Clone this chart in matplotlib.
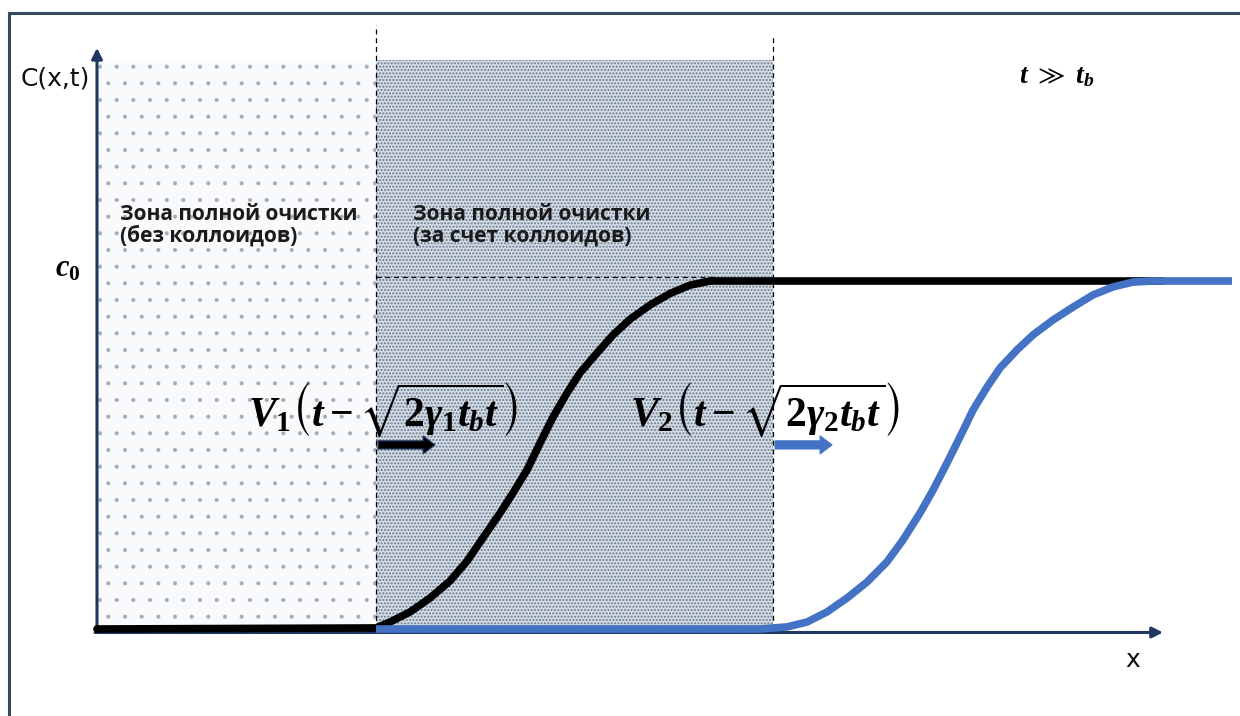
import numpy as np
import matplotlib as mpl
import matplotlib.pyplot as plt
from matplotlib.lines import Line2D

plt.rcParams['mathtext.fontset'] = 'custom'
plt.rcParams['mathtext.it'] = 'Liberation Serif:bold:italic'
plt.rcParams['mathtext.rm'] = 'Liberation Serif:bold'
plt.rcParams['mathtext.bf'] = 'Liberation Serif:bold'
plt.rcParams['mathtext.fallback'] = 'stix'

# границы зон (x в условных единицах), уровень c0 = 1
zone_edges = [0.0, 2.79, 6.76]
zone_top = 1.635
c0 = 1.0

# профиль без коллоидов (черный)
black_x = [0.0, 2.79, 2.93, 3.13, 3.33, 3.53, 3.70, 3.86, 4.03, 4.16, 4.30, 4.43,
           4.56, 4.70, 4.83, 5.00, 5.16, 5.33, 5.53, 5.73, 5.93, 6.13, 10.66]
black_c = [0.0, 0.003, 0.020, 0.049, 0.089, 0.138, 0.195, 0.262, 0.333, 0.391, 0.457, 0.534,
           0.609, 0.678, 0.736, 0.793, 0.845, 0.890, 0.931, 0.964, 0.988, 1.0, 1.0]

# профиль с коллоидами (синий)
blue_x = [2.79, 6.63, 6.90, 7.10, 7.30, 7.50, 7.70, 7.90, 8.06, 8.23, 8.36, 8.50,
          8.63, 8.76, 8.90, 9.03, 9.20, 9.36, 9.56, 9.76, 9.96, 10.16, 10.36, 10.56, 11.35]
blue_c = [0.0, 0.0, 0.006, 0.020, 0.049, 0.089, 0.135, 0.193, 0.256, 0.333, 0.399, 0.477,
          0.552, 0.629, 0.695, 0.750, 0.802, 0.845, 0.888, 0.925, 0.960, 0.983, 0.997, 1.0, 1.0]

x_max = 10.66
y_max = 1.67

navy = '#1f3864'
blue = '#4472c4'

fig = plt.figure(figsize=(12.4, 7.16), dpi=100)
ax = fig.add_axes([0, 0, 1, 1])
ax.set_xlim(-0.97, 11.43)
ax.set_ylim(-0.25, 1.8075)
ax.set_axis_off()

# рамка
fig.add_artist(Line2D([9/1240, 9/1240], [0, 1 - 13/716], transform=fig.transFigure,
                      color='#34495a', lw=2.2))
fig.add_artist(Line2D([9/1240, 1], [1 - 13/716, 1 - 13/716], transform=fig.transFigure,
                      color='#34495a', lw=2.2))

# зоны очистки
with mpl.rc_context({'hatch.linewidth': 0.5}):
    ax.fill_between([zone_edges[0], zone_edges[1]], 0, zone_top, facecolor='#f8fafc',
                    edgecolor='#a3adb9', hatch='.', lw=0, zorder=1)
with mpl.rc_context({'hatch.linewidth': 1.0}):
    ax.fill_between([zone_edges[1], zone_edges[2]], 0, zone_top, facecolor='#d4dce6',
                    edgecolor='#6a798b', hatch='.....', lw=0, zorder=1)

# пунктирные границы
ax.plot([zone_edges[1], zone_edges[1]], [0, 1.735], ls=(0, (4, 3)), color='k', lw=0.9, zorder=2)
ax.plot([zone_edges[2], zone_edges[2]], [0, 1.70], ls=(0, (4, 3)), color='k', lw=0.9, zorder=2)
ax.plot([zone_edges[1], 6.18], [c0 + 0.012, c0 + 0.012], ls=(0, (4, 3)), color='k', lw=0.9, zorder=2)

# оси
ax.annotate('', xy=(x_max, -0.01), xytext=(-0.02, -0.01),
            arrowprops=dict(arrowstyle='-|>', color=navy, lw=2.2, mutation_scale=16,
                            shrinkA=0, shrinkB=0), zorder=3)
ax.annotate('', xy=(0, y_max), xytext=(0, -0.01),
            arrowprops=dict(arrowstyle='-|>', color=navy, lw=2.2, mutation_scale=16,
                            shrinkA=0, shrinkB=0), zorder=3)

# профили концентрации
ax.plot(black_x, black_c, color='black', lw=5.5, solid_capstyle='round',
        solid_joinstyle='round', zorder=4)
ax.plot(blue_x, blue_c, color=blue, lw=5.5, solid_capstyle='butt',
        solid_joinstyle='round', zorder=5)

# стрелки скоростей
ax.annotate('', xy=(3.38, 0.529), xytext=(2.81, 0.529),
            arrowprops=dict(arrowstyle='simple,tail_width=0.45,head_width=1.0,head_length=0.66',
                            fc='black', ec=navy, lw=0.8, mutation_scale=13,
                            shrinkA=0, shrinkB=0), zorder=6)
ax.annotate('', xy=(7.35, 0.529), xytext=(6.78, 0.529),
            arrowprops=dict(arrowstyle='simple,tail_width=0.45,head_width=1.0,head_length=0.66',
                            fc=blue, ec=blue, lw=0.8, mutation_scale=13,
                            shrinkA=0, shrinkB=0), zorder=6)

# подписи
ax.text(-0.76, 1.583, 'C(x,t)', fontsize=18, ha='left', va='center', color='#111111')
ax.text(10.36, -0.089, 'x', fontsize=18, ha='center', va='center', color='#111111')
ax.text(-0.42, 1.037, r'$c_0$', fontsize=22, ha='left', va='center')
ax.text(9.22, 1.592, r'$t\ \gg\ t_b$', fontsize=20, ha='left', va='center')

zone_font = dict(fontsize=15, fontweight='bold', family=['Open Sans', 'DejaVu Sans'],
                 color='#1a1a1a', ha='left', va='top', linespacing=1.0)
ax.text(0.23, 1.22, 'Зона полной очистки\n(без коллоидов)', zorder=7, **zone_font)
ax.text(3.16, 1.22, 'Зона полной очистки\n(за счет коллоидов)', zorder=7, **zone_font)

ax.text(1.51, 0.629, r'$V_1\left(t-\sqrt{2\gamma_1 t_b t}\right)$', fontsize=30,
        ha='left', va='center', zorder=7)
ax.text(5.33, 0.629, r'$V_2\left(t-\sqrt{2\gamma_2 t_b t}\right)$', fontsize=30,
        ha='left', va='center', zorder=7)

plt.savefig('out.png', dpi=100)
plt.close()
